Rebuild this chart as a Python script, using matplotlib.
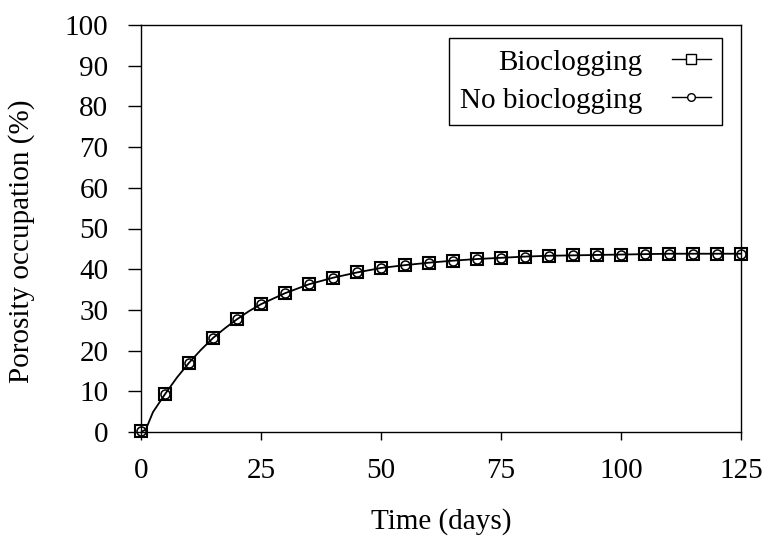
import matplotlib
matplotlib.use("Agg")
import matplotlib.pyplot as plt

plt.rcParams['font.family'] = ['Liberation Serif', 'DejaVu Serif']

days = [0, 5, 10, 15, 20, 25, 30, 35, 40, 45, 50, 55, 60, 65, 70, 75, 80, 85,
        90, 95, 100, 105, 110, 115, 120, 125]
bioclogging = [0.2, 9.3, 17.0, 23.1, 27.7, 31.4, 34.1, 36.3, 37.9, 39.2, 40.3,
               41.0, 41.6, 42.1, 42.5, 42.8, 43.1, 43.3, 43.4, 43.5, 43.6,
               43.7, 43.8, 43.8, 43.8, 43.8]
no_bioclogging = [0.2, 9.3, 17.0, 23.1, 27.7, 31.4, 34.1, 36.3, 37.9, 39.2, 40.3,
                  41.0, 41.6, 42.1, 42.5, 42.8, 43.1, 43.3, 43.4, 43.5, 43.6,
                  43.7, 43.8, 43.8, 43.8, 43.8]
# early part of the drawn curve
curve_days = [0, 1, 2.5, 5, 7.5, 10, 12.5, 15, 17.5, 20, 22.5, 25]
curve_values = [0.0, 0.6, 4.9, 9.3, 13.4, 17.0, 20.2, 23.1, 25.5, 27.7, 29.7, 31.4]

xticks = [0, 25, 50, 75, 100, 125]
yticks = [0, 10, 20, 30, 40, 50, 60, 70, 80, 90, 100]

FS = 21

fig = plt.figure(figsize=(7.64, 5.42), dpi=100)
ax = fig.add_axes([141/764, 1 - 432/542, 600/764, 407/542])

line_x = curve_days + days[6:]
line_y = curve_values + bioclogging[6:]
ax.plot(line_x, line_y, color='black', lw=1.3, zorder=2)

ax.plot(days, bioclogging, linestyle='none', marker='s', markersize=8.3,
        markerfacecolor='none', markeredgecolor='black', markeredgewidth=1.5,
        zorder=3, clip_on=False)
ax.plot(days, no_bioclogging, linestyle='none', marker='o', markersize=6.5,
        markerfacecolor='none', markeredgecolor='black', markeredgewidth=1.1,
        zorder=3, clip_on=False)

h1, = ax.plot([], [], color='black', lw=1.0, marker='s', markersize=6.5,
              markerfacecolor='white', markeredgecolor='black', markeredgewidth=1.0)
h2, = ax.plot([], [], color='black', lw=1.0, marker='o', markersize=5.5,
              markerfacecolor='white', markeredgecolor='black', markeredgewidth=1.0)
leg = ax.legend([h1, h2], ['Bioclogging', 'No bioclogging'], loc='upper right',
                bbox_to_anchor=((722 - 141) / 600, (432 - 38) / 407),
                markerfirst=False, fontsize=FS, frameon=True, fancybox=False,
                edgecolor='black', framealpha=1, handlelength=1.35,
                borderaxespad=0.0, borderpad=0.38, labelspacing=0.4,
                handletextpad=1.0)
leg.get_frame().set_linewidth(1.0)

ax.set_xlim(0, 125)
ax.set_ylim(0, 100)
ax.set_xticks(xticks)
ax.set_yticks(yticks)
ax.tick_params(axis='both', labelsize=FS, direction='out', width=1.0)
ax.tick_params(axis='y', length=9.4, pad=14)
ax.tick_params(axis='x', length=6, pad=13)
for s in ax.spines.values():
    s.set_linewidth(1.0)

ax.set_xlabel('Time (days)', fontsize=FS, va='center')
ax.xaxis.set_label_coords(0.5, -(522 - 432) / 407)
ax.set_ylabel('Porosity occupation (%)', fontsize=FS, va='center')
ax.yaxis.set_label_coords((22 - 141) / 600, (432 - 241) / 407)

fig.savefig('out.png', dpi=100)
